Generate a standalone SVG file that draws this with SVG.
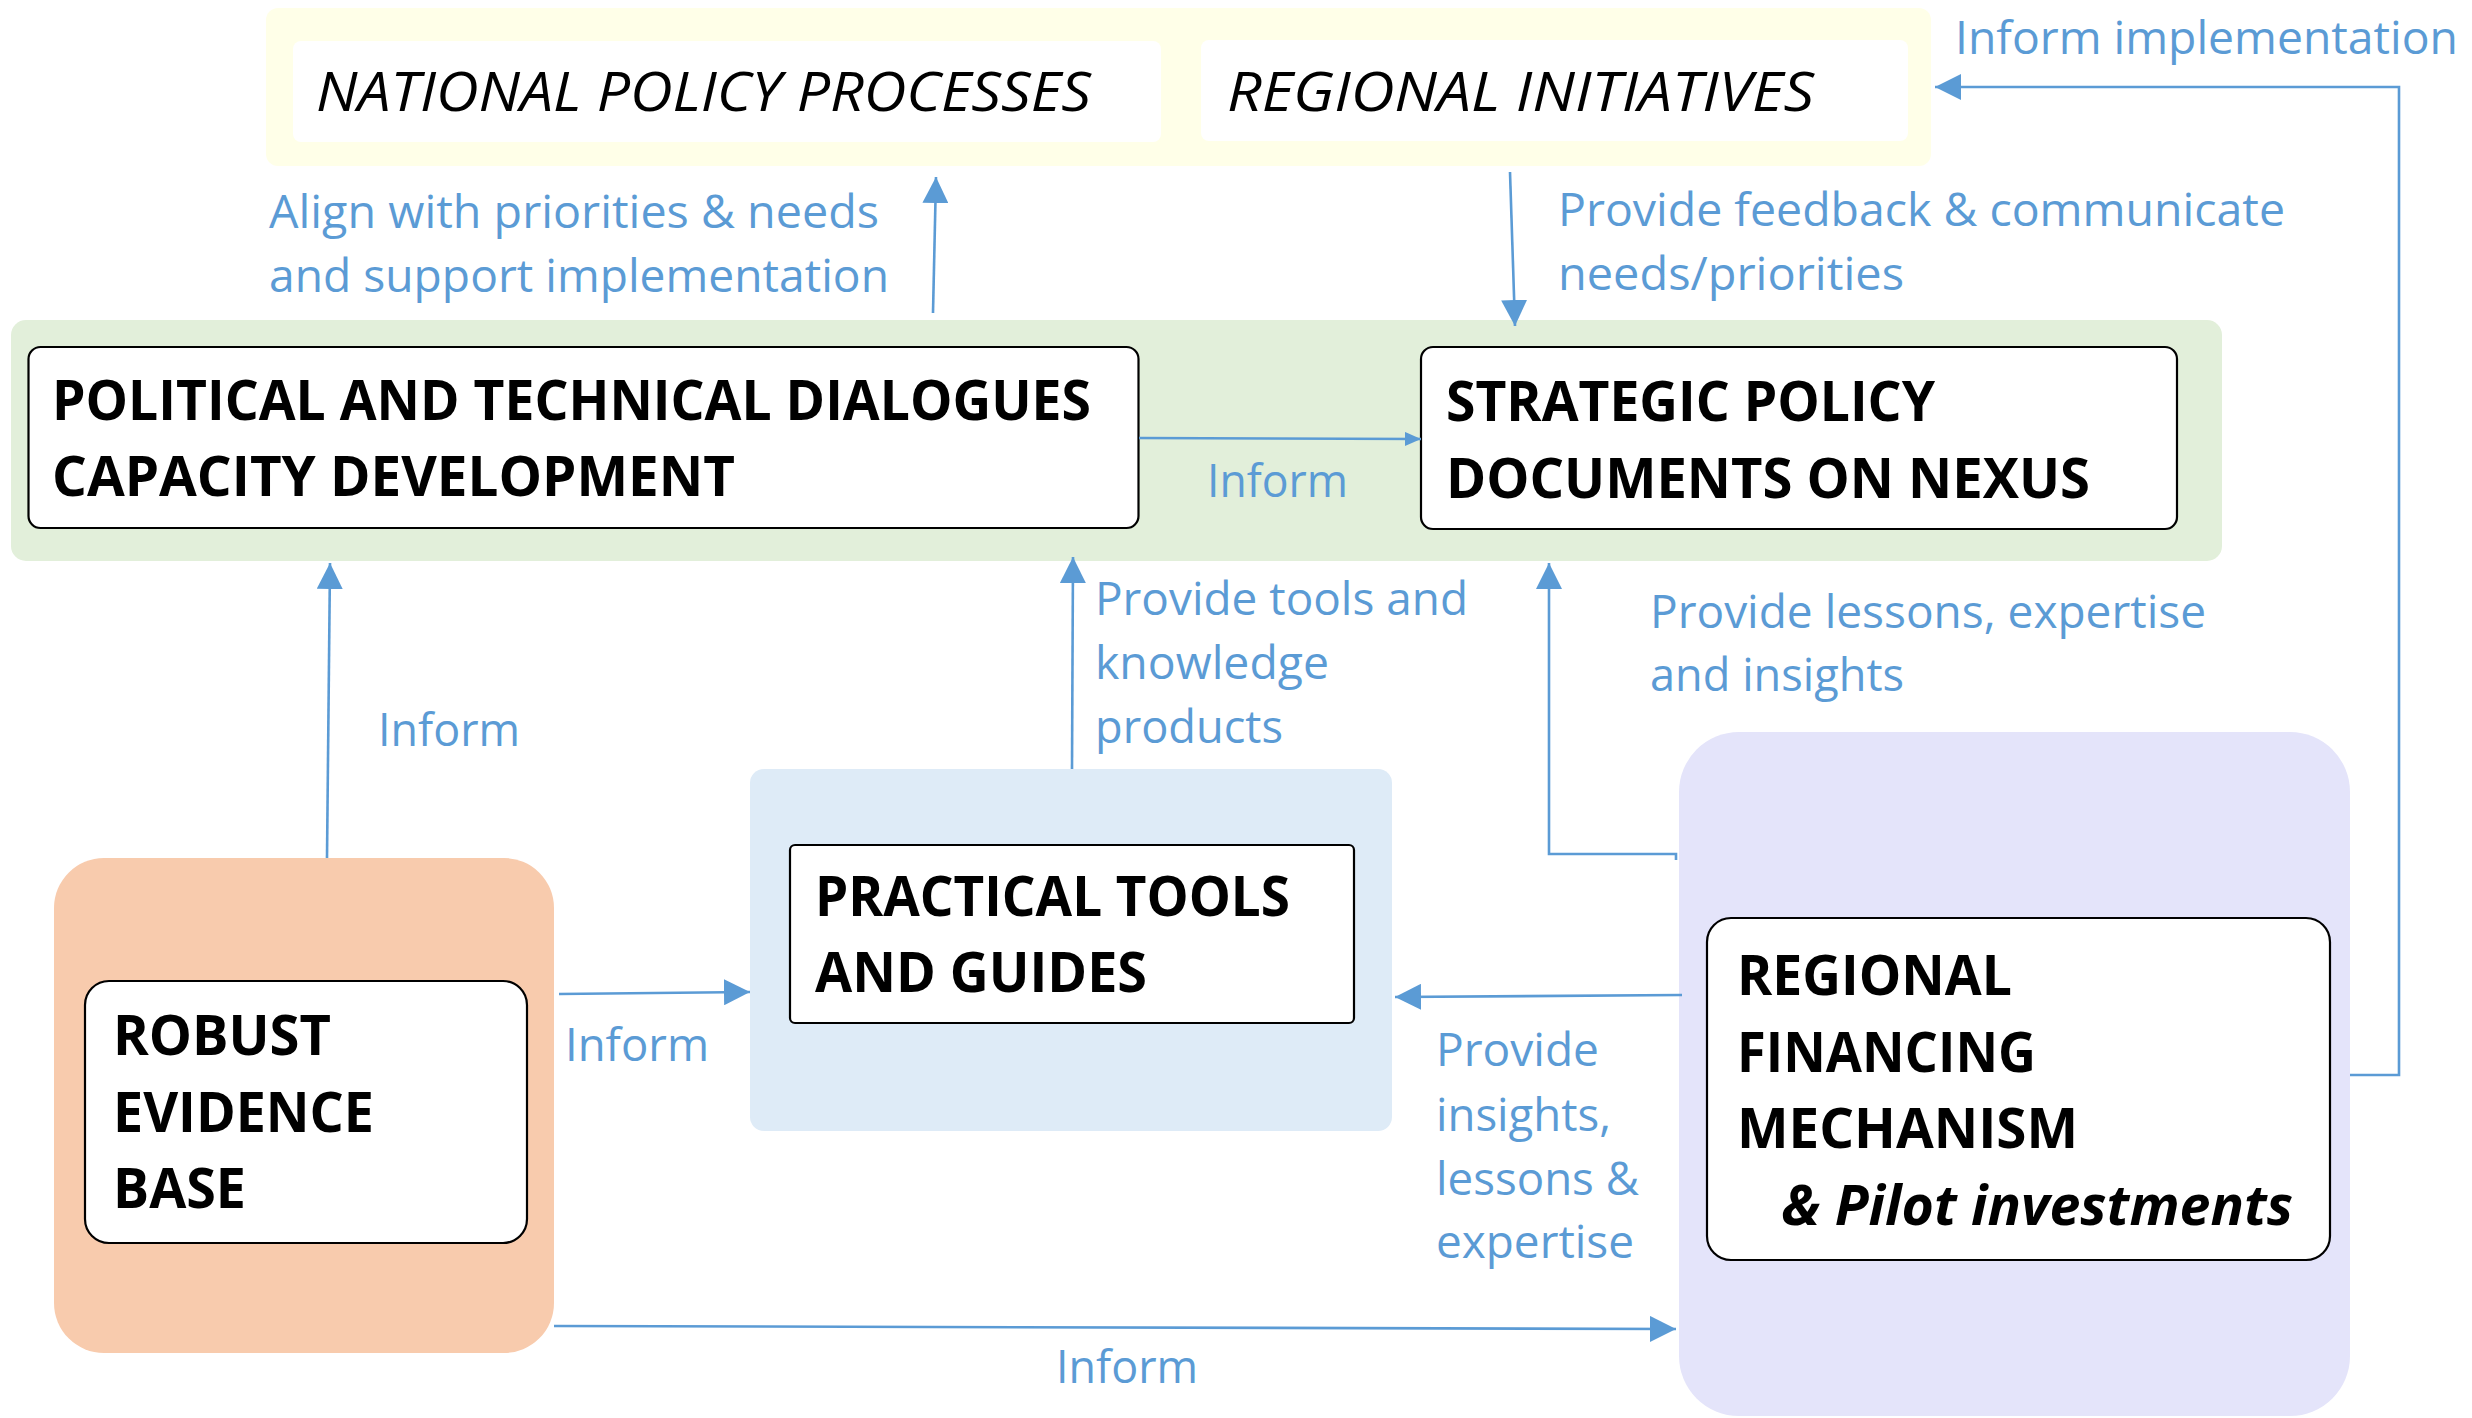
<svg xmlns="http://www.w3.org/2000/svg" width="2472" height="1418" viewBox="0 0 2472 1418">
<style>
.node{fill:#fff;stroke:#000;stroke-width:2.2}
.plain{fill:#fff}
.t{font-family:"Open Sans","Noto Sans","Liberation Sans",sans-serif;font-weight:700;font-size:55px;fill:#000}
.ti{font-family:"Open Sans","Noto Sans","Liberation Sans",sans-serif;font-style:italic;font-size:55px;fill:#000}
.tbi{font-family:"Open Sans","Noto Sans","Liberation Sans",sans-serif;font-style:italic;font-weight:700;font-size:55px;fill:#000}
.lbl{font-family:"Open Sans","Noto Sans","Liberation Sans",sans-serif;font-size:46px;fill:#5B9BD5}
.con{fill:none;stroke:#5B9BD5;stroke-width:2.6}
</style>
<defs>
<marker id="ah" viewBox="0 0 26 26" markerWidth="26" markerHeight="26" refX="26" refY="13" orient="auto" markerUnits="userSpaceOnUse">
<path d="M0,0 L26,13 L0,26 z" fill="#5B9BD5"/>
</marker>
<marker id="ahs" viewBox="0 0 16 14" markerWidth="16" markerHeight="14" refX="16" refY="7" orient="auto" markerUnits="userSpaceOnUse">
<path d="M0,0 L16,7 L0,14 z" fill="#5B9BD5"/>
</marker>
</defs>
<rect width="2472" height="1418" fill="#fff"/>

<g id="policy-level">
<rect x="266" y="8" width="1665" height="158" rx="12" fill="#FFFFE8"/>
</g>
<g id="national-policy-processes">
<rect class="plain" x="293" y="41" width="868" height="101" rx="8"/>
<text class="ti" x="316" y="111" textLength="775" lengthAdjust="spacingAndGlyphs">NATIONAL POLICY PROCESSES</text>
</g>
<g id="regional-initiatives">
<rect class="plain" x="1201" y="40" width="707" height="101" rx="8"/>
<text class="ti" x="1227" y="111" textLength="587" lengthAdjust="spacingAndGlyphs">REGIONAL INITIATIVES</text>
</g>

<g id="dialogue-level">
<rect x="11" y="320" width="2211" height="241" rx="15" fill="#E2EFDA"/>
</g>
<g id="political-dialogues">
<rect class="node" x="28.5" y="347" width="1110" height="181" rx="12"/>
<text class="t" x="52" y="420" textLength="1039" lengthAdjust="spacingAndGlyphs">POLITICAL AND TECHNICAL DIALOGUES</text>
<text class="t" x="52" y="496" textLength="683" lengthAdjust="spacingAndGlyphs">CAPACITY DEVELOPMENT</text>
</g>
<g id="strategic-policy">
<rect class="node" x="1421" y="347" width="756" height="182" rx="12"/>
<text class="t" x="1446" y="421" textLength="489" lengthAdjust="spacingAndGlyphs">STRATEGIC POLICY</text>
<text class="t" x="1446" y="498" textLength="644" lengthAdjust="spacingAndGlyphs">DOCUMENTS ON NEXUS</text>
</g>

<g id="robust-evidence">
<rect x="54" y="858" width="500" height="495" rx="50" fill="#F8CBAD"/>
<rect class="node" x="85" y="981" width="442" height="262" rx="24"/>
<text class="t" x="113" y="1055" textLength="218" lengthAdjust="spacingAndGlyphs">ROBUST</text>
<text class="t" x="113" y="1132" textLength="261" lengthAdjust="spacingAndGlyphs">EVIDENCE</text>
<text class="t" x="113" y="1208" textLength="133" lengthAdjust="spacingAndGlyphs">BASE</text>
</g>

<g id="practical-tools">
<rect x="750" y="769" width="642" height="362" rx="14" fill="#DEEBF7"/>
<rect class="node" x="790" y="845" width="564" height="178" rx="5"/>
<text class="t" x="815" y="916" textLength="475" lengthAdjust="spacingAndGlyphs">PRACTICAL TOOLS</text>
<text class="t" x="815" y="992" textLength="332" lengthAdjust="spacingAndGlyphs">AND GUIDES</text>
</g>

<g id="regional-financing">
<rect x="1679" y="732" width="671" height="684" rx="60" fill="#E4E4FA"/>
<rect class="node" x="1707" y="918" width="623" height="342" rx="24"/>
<text class="t" x="1737" y="995" textLength="275" lengthAdjust="spacingAndGlyphs">REGIONAL</text>
<text class="t" x="1737" y="1072" textLength="299" lengthAdjust="spacingAndGlyphs">FINANCING</text>
<text class="t" x="1737" y="1148" textLength="341" lengthAdjust="spacingAndGlyphs">MECHANISM</text>
<text class="tbi" x="1781" y="1225" textLength="512" lengthAdjust="spacingAndGlyphs">&amp; Pilot investments</text>
</g>

<g id="connectors">
<path class="con" d="M327,858 L330,563" marker-end="url(#ah)"/>
<path class="con" d="M559,994 L750,992" marker-end="url(#ah)"/>
<path class="con" d="M554,1326 L1676,1329" marker-end="url(#ah)"/>
<path class="con" d="M1072,769 L1073,557" marker-end="url(#ah)"/>
<path class="con" d="M1139,438 L1421,439" marker-end="url(#ahs)"/>
<path class="con" d="M933,313 L936,177" marker-end="url(#ah)"/>
<path class="con" d="M1510,172 L1515,326" marker-end="url(#ah)"/>
<path class="con" d="M1676,860 L1676,854 L1549,854 L1549,563" marker-end="url(#ah)"/>
<path class="con" d="M1682,995 L1395,997" marker-end="url(#ah)"/>
<path class="con" d="M2350,1075 L2399,1075 L2399,87 L1935,87" marker-end="url(#ah)"/>
</g>

<g id="connector-labels">
<text class="lbl" x="269" y="228" textLength="610" lengthAdjust="spacingAndGlyphs">Align with priorities &amp; needs</text>
<text class="lbl" x="269" y="292" textLength="620" lengthAdjust="spacingAndGlyphs">and support implementation</text>
<text class="lbl" x="1558" y="226" textLength="727" lengthAdjust="spacingAndGlyphs">Provide feedback &amp; communicate</text>
<text class="lbl" x="1558" y="290" textLength="346" lengthAdjust="spacingAndGlyphs">needs/priorities</text>
<text class="lbl" x="1955" y="54" textLength="503" lengthAdjust="spacingAndGlyphs">Inform implementation</text>
<text class="lbl" x="1207" y="497" textLength="141" lengthAdjust="spacingAndGlyphs">Inform</text>
<text class="lbl" x="378" y="746" textLength="142" lengthAdjust="spacingAndGlyphs">Inform</text>
<text class="lbl" x="1095" y="615" textLength="373" lengthAdjust="spacingAndGlyphs">Provide tools and</text>
<text class="lbl" x="1095" y="679" textLength="234" lengthAdjust="spacingAndGlyphs">knowledge</text>
<text class="lbl" x="1095" y="743" textLength="188" lengthAdjust="spacingAndGlyphs">products</text>
<text class="lbl" x="1650" y="628" textLength="556" lengthAdjust="spacingAndGlyphs">Provide lessons, expertise</text>
<text class="lbl" x="1650" y="691" textLength="254" lengthAdjust="spacingAndGlyphs">and insights</text>
<text class="lbl" x="565" y="1061" textLength="144" lengthAdjust="spacingAndGlyphs">Inform</text>
<text class="lbl" x="1436" y="1066" textLength="163" lengthAdjust="spacingAndGlyphs">Provide</text>
<text class="lbl" x="1436" y="1131" textLength="175" lengthAdjust="spacingAndGlyphs">insights,</text>
<text class="lbl" x="1436" y="1195" textLength="203" lengthAdjust="spacingAndGlyphs">lessons &amp;</text>
<text class="lbl" x="1436" y="1258" textLength="198" lengthAdjust="spacingAndGlyphs">expertise</text>
<text class="lbl" x="1056" y="1383" textLength="142" lengthAdjust="spacingAndGlyphs">Inform</text>
</g>
</svg>
